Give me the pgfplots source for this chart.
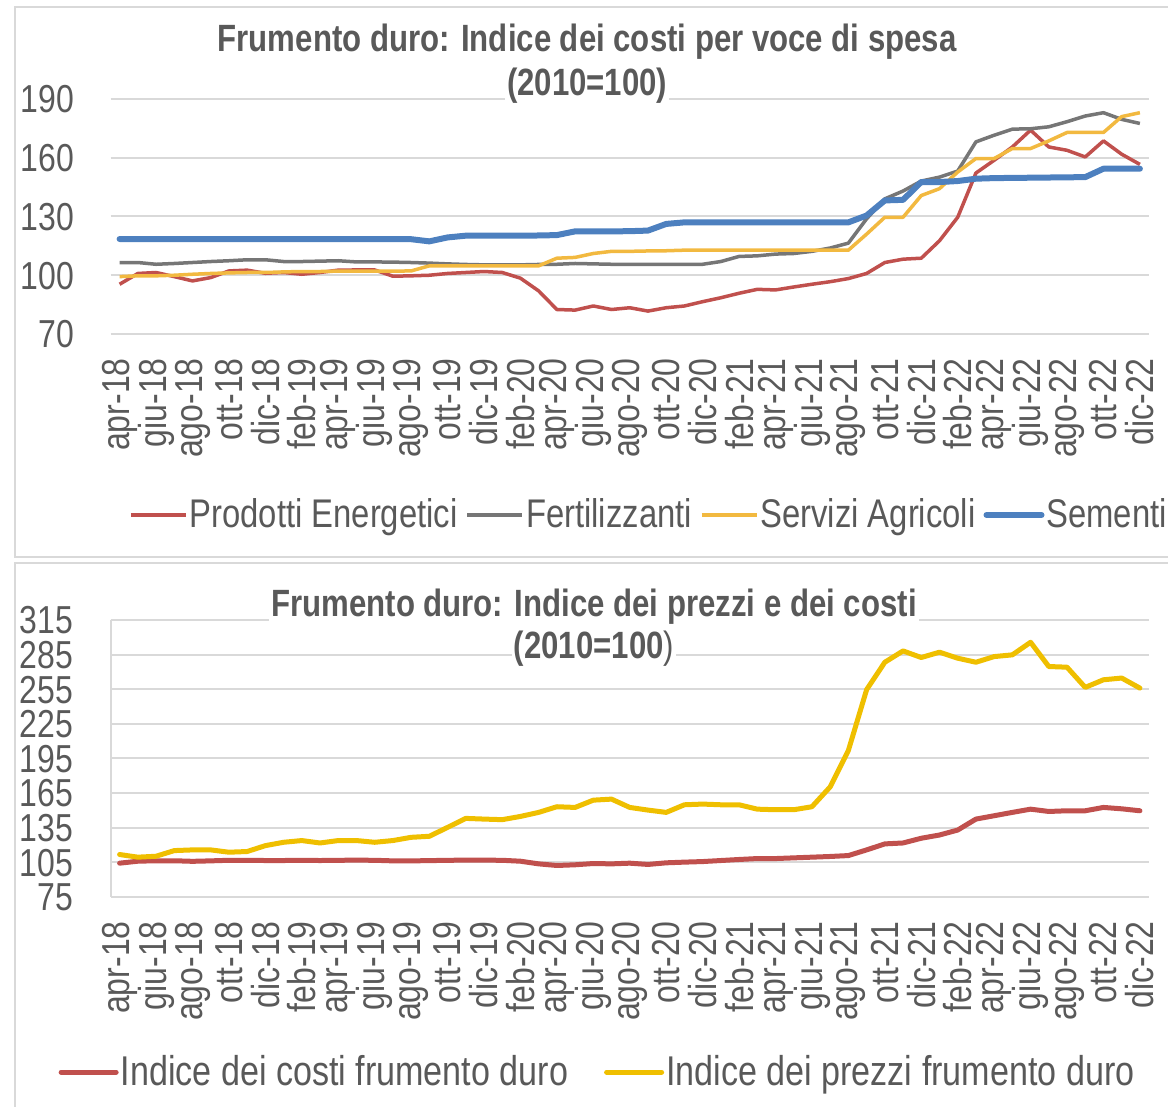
\documentclass[border=0pt]{standalone}
\usepackage{fontspec}
\setmainfont[FakeStretch=0.82]{Liberation Sans}
\usepackage{pgfplots}
\usepackage{pgfplotstable}
\pgfplotsset{compat=1.18}

\definecolor{txt}{HTML}{595959}
\definecolor{gridc}{HTML}{D9D9D9}
\definecolor{rosso}{HTML}{C0504D}
\definecolor{grigio}{HTML}{767676}
\definecolor{giallo}{HTML}{F2B940}
\definecolor{blu}{HTML}{4D80BF}
\definecolor{oro}{HTML}{EFBF00}

% indice dei costi per voce di spesa (mese 0 = apr-18)
\pgfplotstableread{
i  ener   fert   serv   seme
0  95.4   106.5  99.3   118.5
1  100.9  106.5  99.7   118.5
2  101.4  105.6  99.7   118.5
3  99.3   106.0  100.0  118.5
4  97.1   106.5  100.5  118.5
5  98.8   107.0  100.9  118.5
6  102.2  107.4  101.2  118.4
7  102.6  107.9  101.4  118.4
8  101.0  107.9  101.4  118.4
9  101.4  107.0  101.7  118.4
10 100.5  107.0  101.9  118.4
11 101.4  107.2  101.9  118.4
12 102.6  107.4  102.1  118.4
13 102.7  106.8  102.1  118.4
14 102.7  106.8  102.1  118.4
15 99.5   106.7  102.1  118.4
16 99.7   106.5  102.2  118.4
17 100.0  106.2  104.8  117.3
18 100.9  105.8  104.8  119.3
19 101.4  105.5  104.8  120.2
20 101.9  105.3  104.8  120.2
21 101.4  105.3  104.8  120.2
22 98.5   105.3  104.8  120.2
23 92.0   105.5  104.8  120.3
24 82.5   105.6  108.7  120.5
25 82.2   106.0  109.1  122.4
26 84.3   105.8  111.1  122.4
27 82.5   105.6  112.2  122.4
28 83.4   105.6  112.2  122.5
29 81.7   105.5  112.4  122.8
30 83.4   105.5  112.5  126.2
31 84.3   105.6  112.8  127.0
32 86.5   105.6  112.8  127.0
33 88.5   107.0  112.8  127.0
34 90.8   109.6  112.8  127.0
35 92.8   109.9  112.8  127.0
36 92.5   110.8  112.8  127.0
37 94.0   111.1  112.8  127.0
38 95.4   112.2  112.8  127.0
39 96.7   113.9  112.8  127.0
40 98.3   116.4  112.8  127.0
41 100.9  128.8  121.0  130.5
42 106.5  139.0  129.6  138.2
43 108.2  143.0  129.6  138.5
44 108.7  148.1  140.7  147.6
45 117.6  150.1  144.2  147.6
46 129.6  153.2  152.7  148.1
47 152.2  168.1  159.6  149.3
48 158.7  171.5  159.6  149.6
49 165.5  174.6  164.7  149.7
50 174.1  174.8  164.7  149.8
51 165.5  175.8  168.6  149.9
52 163.8  178.4  172.9  150.0
53 160.4  181.3  172.9  150.1
54 168.6  183.0  172.9  154.4
55 161.8  179.6  181.0  154.4
56 156.6  177.5  183.0  154.4
}\costivoci

% indice dei prezzi e dei costi
\pgfplotstableread{
i  costi  prezzi
0  104.3  111.8
1  106.0  109.5
2  106.4  110.3
3  106.4  115.2
4  105.9  115.8
5  106.3  115.8
6  106.8  113.8
7  106.8  114.4
8  106.6  119.5
9  106.6  122.4
10 106.8  123.9
11 106.6  121.8
12 106.8  123.9
13 106.9  123.9
14 106.8  122.4
15 106.3  123.9
16 106.3  126.7
17 106.5  127.6
18 106.8  135.3
19 106.9  143.1
20 106.9  142.5
21 106.8  142.0
22 106.0  144.8
23 103.7  148.3
24 102.3  153.2
25 102.9  152.6
26 104.0  158.9
27 103.7  159.8
28 104.3  152.6
29 103.2  150.3
30 104.6  148.3
31 105.2  154.9
32 105.7  155.5
33 106.6  154.9
34 107.5  154.9
35 108.3  151.1
36 108.3  150.6
37 108.9  150.6
38 109.5  153.2
39 110.1  170.4
40 110.9  202.0
41 115.8  254.6
42 121.0  278.4
43 121.8  288.2
44 125.9  282.5
45 128.7  287.1
46 133.0  281.9
47 142.5  278.4
48 145.4  283.3
49 148.3  284.8
50 151.1  295.7
51 149.1  274.7
52 149.7  274.1
53 149.7  256.6
54 152.6  263.2
55 151.4  264.7
56 149.7  256.0
}\prezzicosti

\tikzset{
  titolo/.style={fill=white, inner sep=1pt, text=txt,
    font=\fontsize{19}{19}\selectfont\bfseries},
}
\pgfplotsset{
  frum/.style={
    scale only axis, width=519.25pt, clip=false,
    xmin=-0.5, xmax=56.5,
    xtick={0,2,...,56},
    xticklabels={apr-18,giu-18,ago-18,ott-18,dic-18,feb-19,apr-19,giu-19,ago-19,ott-19,
      dic-19,feb-20,apr-20,giu-20,ago-20,ott-20,dic-20,feb-21,apr-21,giu-21,ago-21,
      ott-21,dic-21,feb-22,apr-22,giu-22,ago-22,ott-22,dic-22},
    xticklabel style={rotate=90, anchor=east, inner sep=0pt},
    xticklabel shift=12pt,
    tick label style={font=\fontsize{19.5}{19.5}\selectfont, text=txt},
    yticklabel style={inner sep=0pt, xshift=-18pt, text height=13.8pt, text depth=0pt},
    /pgf/number format/assume math mode=true,
    major tick length=0pt,
    ymajorgrids, grid style={gridc, line width=1pt},
    legend style={draw=none, fill=none, font=\fontsize{20}{20}\selectfont, text=txt,
      legend columns=-1, inner sep=0pt,
      nodes={inner xsep=1pt},
      /tikz/every even column/.append style={column sep=3pt}},
    legend image code/.code={\draw[#1] (0pt,0pt) -- (27.5pt,0pt);},
  },
}

\begin{document}
\begin{tikzpicture}
\useasboundingbox (0pt,0pt) rectangle (584pt,553.5pt);
\draw[gridc, line width=1pt] (7.5pt,275pt) rectangle (600pt,550pt);
\draw[gridc, line width=1pt] (7.5pt,-10pt) rectangle (600pt,272pt);

\begin{axis}[frum, at={(55.25pt,386.5pt)}, anchor=south west, height=117.5pt,
  ymin=70, ymax=190, ytick={70,100,...,190},
  axis line style={draw=none},
  legend style={at={(rel axis cs:0.5185,-0.770)}, anchor=center}]
  \addplot[rosso, line width=1.75pt, line join=round] table[x=i, y=ener] {\costivoci};
  \addlegendentry{Prodotti Energetici}
  \addplot[grigio, line width=1.75pt, line join=round] table[x=i, y=fert] {\costivoci};
  \addlegendentry{Fertilizzanti}
  \addplot[giallo, line width=1.75pt, line join=round] table[x=i, y=serv] {\costivoci};
  \addlegendentry{Servizi Agricoli}
  \addplot[blu, line width=3pt, line join=round, line cap=round] table[x=i, y=seme] {\costivoci};
  \addlegendentry{Sementi}
  \node[titolo] at (rel axis cs:0.459,1.2426) {Frumento duro: Indice dei costi per voce di spesa};
  \node[titolo] at (rel axis cs:0.459,1.0553) {(2010=100)};
\end{axis}

\begin{axis}[frum, at={(55.25pt,105pt)}, anchor=south west, height=138.5pt,
  ymin=75, ymax=315, ytick={75,105,...,315},
  yticklabel style={xshift=-0.5pt},
  axis x line*=bottom, axis y line*=left,
  x axis line style={-}, y axis line style={-},
  axis line style={gridc, line width=1pt},
  legend style={at={(rel axis cs:0.469,-0.632)}, anchor=center,
    font=\fontsize{20.8}{20.8}\selectfont,
    /tikz/every even column/.append style={column sep=17pt}}]
  \addplot[rosso, line width=2.5pt, line join=round, line cap=round] table[x=i, y=costi] {\prezzicosti};
  \addlegendentry{Indice dei costi frumento duro}
  \addplot[oro, line width=2.5pt, line join=round, line cap=round] table[x=i, y=prezzi] {\prezzicosti};
  \addlegendentry{Indice dei prezzi frumento duro}
  \node[titolo] at (rel axis cs:0.4656,1.0469) {Frumento duro: Indice dei prezzi e dei costi};
  \node[titolo] at (rel axis cs:0.4656,0.8953) {(2010=100\textmd{)}};
\end{axis}
\end{tikzpicture}
\end{document}
